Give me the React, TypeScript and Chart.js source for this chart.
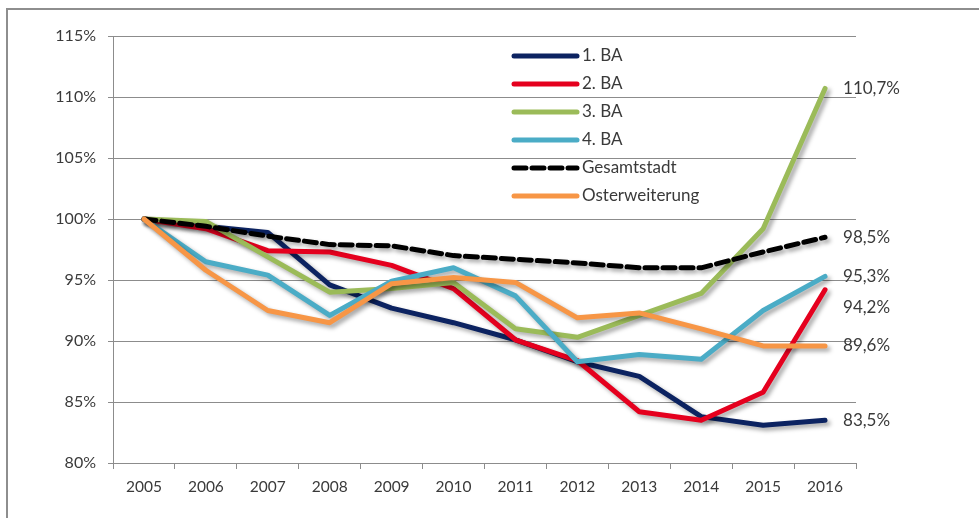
import { useEffect, useRef } from 'react';
import { Chart, registerables } from 'chart.js';

Chart.register(...registerables);

const years = ['2005', '2006', '2007', '2008', '2009', '2010', '2011', '2012', '2013', '2014', '2015', '2016'];
const ba1 = [100, 99.4, 98.9, 94.6, 92.7, 91.5, 90.1, 88.3, 87.1, 83.8, 83.1, 83.5];
const ba2 = [100, 99.2, 97.4, 97.3, 96.2, 94.3, 90.1, 88.4, 84.2, 83.5, 85.8, 94.2];
const ba3 = [100, 99.8, 96.9, 94.0, 94.3, 94.8, 91.0, 90.3, 92.1, 93.9, 99.2, 110.7];
const ba4 = [100, 96.5, 95.4, 92.1, 94.9, 96.0, 93.7, 88.3, 88.9, 88.5, 92.5, 95.3];
const gesamtstadt = [100, 99.4, 98.6, 97.9, 97.8, 97.0, 96.7, 96.4, 96.0, 96.0, 97.3, 98.5];
const osterweiterung = [100, 95.8, 92.5, 91.5, 94.7, 95.2, 94.8, 91.9, 92.3, 91.0, 89.6, 89.6];
const seriesNames = ['1. BA', '2. BA', '3. BA', '4. BA', 'Gesamtstadt', 'Osterweiterung'];
const seriesColors = ['#0c2361', '#e5001e', '#9bbb59', '#4bacc6', '#000000', '#f79646'];
const seriesDashes: number[][] = [[], [], [], [], [12, 6], []];
const yTicks = { min: 80, max: 115, step: 5 };

const FONT = 'Lato, "Liberation Sans", sans-serif';
const TEXT = '#3a3a3a';

const shadowPlugin = {
  id: 'shadow',
  beforeDatasetsDraw(chart: any) {
    const ctx = chart.ctx;
    ctx.save();
    ctx.shadowColor = 'rgba(0,0,0,0.35)';
    ctx.shadowBlur = 4;
    ctx.shadowOffsetX = 3;
    ctx.shadowOffsetY = 3;
  },
  afterDatasetsDraw(chart: any) {
    chart.ctx.restore();
  },
};

const overlayPlugin = {
  id: 'overlay',
  afterDraw(chart: any) {
    const ctx = chart.ctx;
    const ds = chart.data.datasets;
    ctx.save();
    ctx.font = `17px ${FONT}`;
    ctx.textBaseline = 'middle';
    ctx.textAlign = 'left';
    const lx0 = 514, lx1 = 577, ly0 = 56, lstep = 28;
    ds.forEach((d: any, i: number) => {
      const y = ly0 + i * lstep;
      ctx.beginPath();
      ctx.strokeStyle = d.borderColor;
      ctx.lineWidth = 5;
      ctx.lineCap = 'round';
      ctx.setLineDash(d.borderDash || []);
      ctx.moveTo(lx0, y);
      ctx.lineTo(lx1, y);
      ctx.stroke();
      ctx.setLineDash([]);
      ctx.fillStyle = TEXT;
      ctx.fillText(d.label, lx1 + 5, y);
    });
    const yScale = chart.scales.y;
    const xScale = chart.scales.x;
    const items = ds.map((d: any) => {
      const v = d.data[d.data.length - 1];
      return { v, y: yScale.getPixelForValue(v), text: v.toFixed(1).replace('.', ',') + '%' };
    });
    items.sort((a: any, b: any) => a.y - b.y);
    for (let i = 1; i < items.length; i++) {
      if (items[i].y - items[i - 1].y < 30) items[i].y = items[i - 1].y + 31;
    }
    const lastX = xScale.getPixelForValue(years.length - 1);
    ctx.font = `17px ${FONT}`;
    ctx.fillStyle = TEXT;
    items.forEach((it: any) => ctx.fillText(it.text, lastX + 18, it.y));
    ctx.restore();
  },
};

export default function App() {
  const ref = useRef<HTMLCanvasElement>(null);
  useEffect(() => {
    if (!ref.current) return;
    const series = [ba1, ba2, ba3, ba4, gesamtstadt, osterweiterung];
    const chart = new Chart(ref.current, {
      type: 'line',
      data: {
        labels: years,
        datasets: series.map((s, i) => ({
          label: seriesNames[i],
          data: s,
          borderColor: seriesColors[i],
          backgroundColor: seriesColors[i],
          borderWidth: 5,
          borderDash: seriesDashes[i],
          borderCapStyle: 'round' as const,
          borderJoinStyle: 'round' as const,
          pointRadius: 0,
          tension: 0,
          fill: false,
          order: series.length - i,
        })),
      },
      options: {
        animation: false,
        responsive: false,
        layout: { padding: { left: 0, top: 36, right: 123, bottom: 0 } },
        plugins: { legend: { display: false }, tooltip: { enabled: false } },
        scales: {
          x: {
            offset: true,
            grid: { drawOnChartArea: false, drawTicks: true, tickLength: 6, offset: true, color: '#8c8c8c' },
            border: { color: '#8c8c8c' },
            ticks: { color: TEXT, font: { family: FONT, size: 15.5 }, padding: 9, maxRotation: 0 },
            afterFit: (s: any) => { s.height = 55; },
          },
          y: {
            min: yTicks.min,
            max: yTicks.max,
            grid: { color: '#8c8c8c', tickLength: 5 },
            border: { color: '#8c8c8c' },
            ticks: {
              stepSize: yTicks.step,
              color: TEXT,
              font: { family: FONT, size: 16 },
              padding: 12,
              callback: (v: any) => `${v}%`,
            },
            afterFit: (s: any) => { s.width = 113; },
          },
        },
      },
      plugins: [shadowPlugin, overlayPlugin],
    });
    return () => chart.destroy();
  }, []);
  return (
    <div style={{ position: 'fixed', left: 0, top: 0, width: 979, height: 518, overflow: 'hidden', background: '#fff' }}>
      <div style={{ position: 'absolute', left: 6, top: 8, width: 1200, height: 800, border: '2px solid #8e8e8e' }} />
      <canvas ref={ref} width={979} height={518} style={{ position: 'absolute', left: 0, top: 0, width: 979, height: 518 }} />
    </div>
  );
}
